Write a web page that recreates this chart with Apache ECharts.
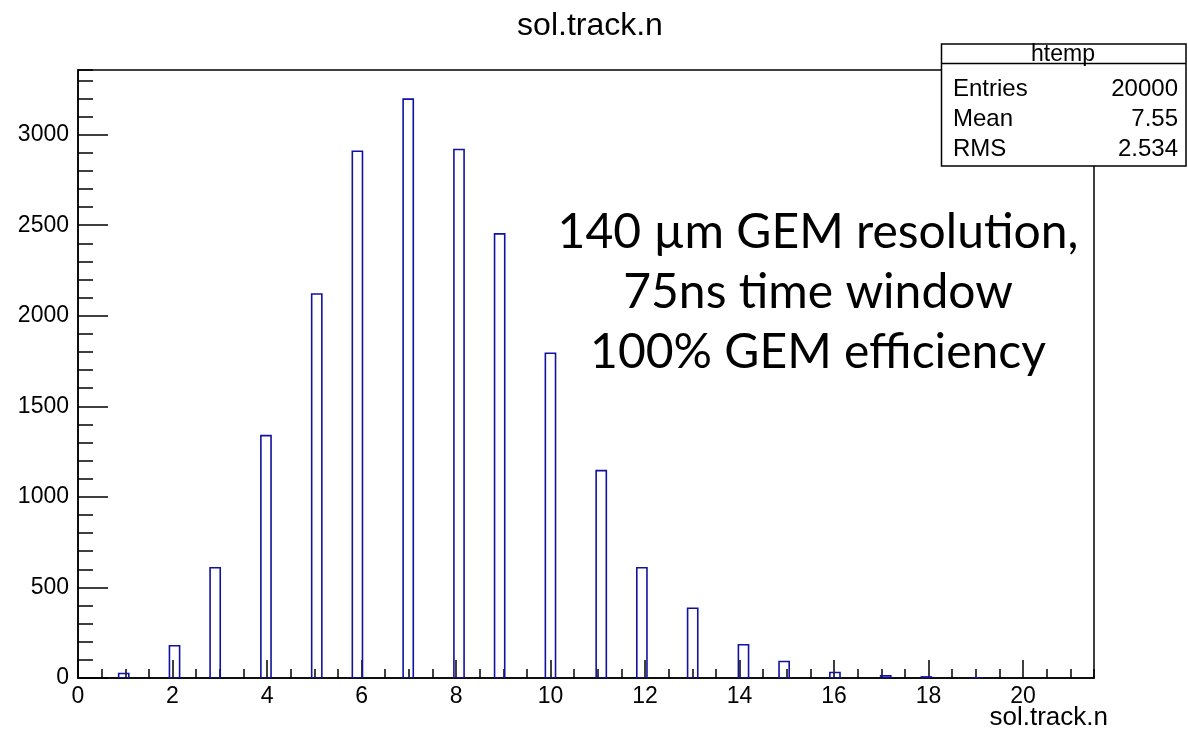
<!DOCTYPE html>
<html>
<head>
<meta charset="utf-8">
<script src="https://cdn.jsdelivr.net/npm/echarts@6/dist/echarts.min.js"></script>
<style>html,body{margin:0;padding:0;background:#fff}#c{width:1188px;height:731px}</style>
</head>
<body>
<div id="c"></div>
<script>
// ---- data ----
const trackN = [1, 2, 3, 4, 5, 6, 7, 8, 9, 10, 11, 12, 13, 14, 15, 16, 17, 18, 19];
const counts = [25, 178, 609, 1338, 2120, 2908, 3196, 2918, 2452, 1793, 1145, 609, 385, 184, 91, 30, 12, 6, 1];
const binWidth = 0.215;   // 100 bins over [0, 21.5]
const xMin = 0, xMax = 21.5;
const yMin = 0, yMax = 3357;
const xMajor = 2, xMinor = 0.5;
const yMajor = 500, yMinor = 100;
const titleText = 'sol.track.n';
const xTitle = 'sol.track.n';
const statsName = 'htemp';
const statsLabels = ['Entries', 'Mean', 'RMS'];
const statsValues = ['20000', '7.55', '2.534'];
const noteLines = ['140 µm GEM resolution,', '75ns time window', '100% GEM efficiency'];

const bins = trackN.map((n, i) => {
  const k = Math.floor(n / binWidth + 1e-9);
  return [k * binWidth, (k + 1) * binWidth, counts[i]];
});

const FONT = "'Liberation Sans', Arial, Helvetica, sans-serif";
const BLUE = '#12129e';

const chart = echarts.init(document.getElementById('c'), null, {renderer: 'canvas'});

const axisCommon = {
  type: 'value',
  splitLine: {show: false},
  axisLine: {show: true, lineStyle: {color: '#000', width: 1.5}},
};
const plain = v => String(v);

const option = {
  backgroundColor: '#fff',
  animation: false,
  title: {
    text: titleText,
    left: 585, top: 5, textAlign: 'center',
    textStyle: {fontFamily: FONT, fontSize: 32, fontWeight: 'normal', color: '#000'}
  },
  grid: {
    left: 78, right: 94, top: 70, bottom: 53,
    show: true, borderColor: '#000', borderWidth: 1.5, backgroundColor: 'transparent'
  },
  xAxis: [
    Object.assign({}, axisCommon, {
      position: 'bottom', min: xMin, max: xMax, interval: xMajor,
      axisTick: {show: true, inside: true, length: 18, lineStyle: {color: '#000', width: 1.5}},
      axisLabel: {show: true, showMaxLabel: false, margin: 7, fontFamily: FONT, fontSize: 23, color: '#000', formatter: plain}
    }),
    Object.assign({}, axisCommon, {
      position: 'bottom', min: xMin, max: xMax, interval: xMinor,
      axisLine: {show: false},
      axisTick: {show: true, inside: true, length: 9, lineStyle: {color: '#000', width: 1.5}},
      axisLabel: {show: false}
    })
  ],
  yAxis: [
    Object.assign({}, axisCommon, {
      position: 'left', min: yMin, max: yMax, interval: yMajor,
      axisTick: {show: true, inside: true, length: 30, lineStyle: {color: '#000', width: 1.5}},
      axisLabel: {show: true, showMaxLabel: false, margin: 9, fontFamily: FONT, fontSize: 23, color: '#000', formatter: plain}
    }),
    Object.assign({}, axisCommon, {
      position: 'left', min: yMin, max: yMax, interval: yMinor,
      axisLine: {show: false},
      axisTick: {show: true, inside: true, length: 15, lineStyle: {color: '#000', width: 1.5}},
      axisLabel: {show: false}
    })
  ],
  series: [{
    type: 'custom',
    xAxisIndex: 0, yAxisIndex: 0,
    clip: true,
    data: bins,
    renderItem: function (params, api) {
      const p0 = api.coord([api.value(0), 0]);
      const p1 = api.coord([api.value(1), api.value(2)]);
      return {
        type: 'rect',
        shape: {x: p0[0], y: p1[1], width: p1[0] - p0[0], height: p0[1] - p1[1]},
        style: {fill: 'none', stroke: BLUE, lineWidth: 1.6}
      };
    }
  }],
  graphic: [
    {
      type: 'group', z: 100,
      children: [
        {type: 'rect', shape: {x: 941.5, y: 44, width: 244.5, height: 122}, style: {fill: '#fff', stroke: '#000', lineWidth: 1.5}},
        {type: 'line', shape: {x1: 941.5, y1: 63.5, x2: 1186, y2: 63.5}, style: {stroke: '#000', lineWidth: 1.5}},
        {type: 'text', x: 1063, y: 55, style: {text: statsName, fontFamily: FONT, fontSize: 23, fill: '#000', align: 'center', verticalAlign: 'middle'}}
      ].concat(statsLabels.map((s, i) => ({
        type: 'text', x: 953, y: 89 + i * 30,
        style: {text: s, fontFamily: FONT, fontSize: 24, fill: '#000', align: 'left', verticalAlign: 'middle'}
      }))).concat(statsValues.map((s, i) => ({
        type: 'text', x: 1178, y: 89 + i * 30,
        style: {text: s, fontFamily: FONT, fontSize: 24, fill: '#000', align: 'right', verticalAlign: 'middle'}
      })))
    },
    {
      type: 'text', x: 1108, y: 718,
      style: {text: xTitle, fontFamily: FONT, fontSize: 26, fill: '#000', align: 'right', verticalAlign: 'middle'}
    }
  ].concat(noteLines.map((s, i) => ({
    type: 'text', x: 818, y: 233 + i * 60,
    style: {text: s, fontFamily: "Lato, 'Open Sans', sans-serif", fontSize: 48, fill: '#000', align: 'center', verticalAlign: 'middle'}
  })))
};

chart.setOption(option);
</script>
</body>
</html>
